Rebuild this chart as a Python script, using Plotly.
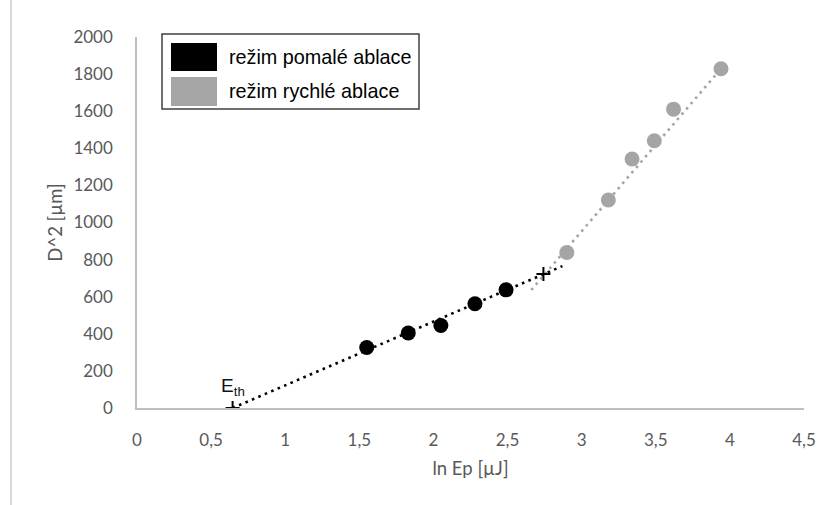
import plotly.graph_objects as go

# ---------------- data ----------------
slow_x = [1.55, 1.83, 2.05, 2.28, 2.49]
slow_y = [326, 404, 445, 562, 637]

fast_x = [2.90, 3.18, 3.34, 3.49, 3.62, 3.94]
fast_y = [838, 1121, 1342, 1441, 1611, 1829]

trend_slow_x = [0.645, 2.87]
trend_slow_y = [0, 765]
trend_fast_x = [2.66, 3.94]
trend_fast_y = [636, 1829]

eth_x = [0.645]
eth_y = [0]
cross_x = [2.742]
cross_y = [723]

x_ticks = [0, 0.5, 1, 1.5, 2, 2.5, 3, 3.5, 4, 4.5]
x_ticktext = ["0", "0,5", "1", "1,5", "2", "2,5", "3", "3,5", "4", "4,5"]
y_ticks = [0, 200, 400, 600, 800, 1000, 1200, 1400, 1600, 1800, 2000]
y_ticktext = ["0", "200", "400", "600", "800", "1000", "1200", "1400", "1600", "1800", "2000"]

legend_labels = ["režim pomalé ablace", "režim rychlé ablace"]
black = "#000000"
gray = "#a5a5a5"

# ---------------- layout geometry ----------------
W, H = 830, 505
L, R, T, B = 137, 26, 37, 97
PW = W - L - R
PH = H - T - B


def px(x):
    return (x - L) / PW


def py(y):
    return (H - B - y) / PH


fig = go.Figure()

fig.add_trace(go.Scatter(x=trend_slow_x, y=trend_slow_y, mode="lines",
                         line=dict(color=black, width=2.6, dash="2.6px,4.4px"),
                         showlegend=False, hoverinfo="skip"))
fig.add_trace(go.Scatter(x=trend_fast_x, y=trend_fast_y, mode="lines",
                         line=dict(color=gray, width=2.6, dash="2.6px,4.4px"),
                         showlegend=False, hoverinfo="skip"))
fig.add_trace(go.Scatter(x=slow_x, y=slow_y, mode="markers",
                         marker=dict(color=black, size=15),
                         name=legend_labels[0], showlegend=False))
fig.add_trace(go.Scatter(x=fast_x, y=fast_y, mode="markers",
                         marker=dict(color=gray, size=15),
                         name=legend_labels[1], showlegend=False))
fig.add_trace(go.Scatter(x=eth_x + cross_x, y=eth_y + cross_y, mode="markers",
                         marker=dict(symbol="cross-thin", size=10,
                                     line=dict(color=black, width=2)),
                         showlegend=False, hoverinfo="skip"))

shapes = [
    # outer chart-area border (left edge)
    dict(type="line", xref="paper", yref="paper", x0=px(11), x1=px(11),
         y0=py(H + 5), y1=py(-5), line=dict(color="#d9d9d9", width=2)),
    # legend box
    dict(type="rect", xref="paper", yref="paper", x0=px(162), x1=px(419),
         y0=py(109), y1=py(34), line=dict(color="#404040", width=1.5),
         fillcolor="white", layer="above"),
    dict(type="rect", xref="paper", yref="paper", x0=px(171), x1=px(217),
         y0=py(71), y1=py(43), line=dict(width=0), fillcolor=black, layer="above"),
    dict(type="rect", xref="paper", yref="paper", x0=px(171), x1=px(217),
         y0=py(106), y1=py(77), line=dict(width=0), fillcolor=gray, layer="above"),
]

annotations = [
    dict(xref="paper", yref="paper", x=px(227), y=py(57), xanchor="left",
         yanchor="middle", text=legend_labels[0], showarrow=False,
         font=dict(family="Liberation Sans, Arial", size=19.8, color="#000000")),
    dict(xref="paper", yref="paper", x=px(227), y=py(91.5), xanchor="left",
         yanchor="middle", text=legend_labels[1], showarrow=False,
         font=dict(family="Liberation Sans, Arial", size=19.8, color="#000000")),
    dict(x=eth_x[0], y=eth_y[0], xref="x", yref="y", xanchor="center",
         yanchor="bottom", yshift=7, text="E<sub>th</sub>", showarrow=False,
         font=dict(family="Liberation Sans, Arial", size=19, color="#111111")),
]

tick_font = dict(family="Lato, Open Sans", size=17, color="#595959")

fig.update_layout(
    width=W, height=H,
    margin=dict(l=L, r=R, t=T, b=B, pad=0),
    paper_bgcolor="white", plot_bgcolor="white",
    shapes=shapes, annotations=annotations,
    showlegend=False,
    xaxis=dict(range=[0, 4.5], tickvals=x_ticks, ticktext=x_ticktext,
               showgrid=False, zeroline=False, showline=True,
               linecolor="#bfbfbf", linewidth=1.5, ticks="",
               ticklabelstandoff=16, tickfont=tick_font,
               title=dict(text="ln Ep [µJ]", standoff=13,
                          font=dict(family="Lato, Open Sans", size=18.5, color="#595959"))),
    yaxis=dict(range=[0, 2000], tickvals=y_ticks, ticktext=y_ticktext,
               showgrid=False, zeroline=False, showline=True,
               linecolor="#bfbfbf", linewidth=1.5, ticks="",
               ticklabelstandoff=19, tickfont=tick_font,
               title=dict(text="D^2 [µm]", standoff=6,
                          font=dict(family="Lato, Open Sans", size=18.5, color="#595959"))),
)

fig.write_html("out.html")
